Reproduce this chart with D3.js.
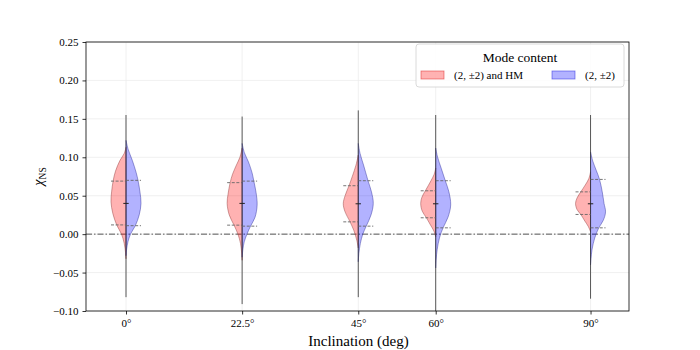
<!DOCTYPE html>
<html>
<head>
<meta charset="utf-8">
<script src="https://cdn.jsdelivr.net/npm/d3@7"></script>
<style>
  body { margin: 0; background: #fff; }
  svg text { font-family: "Liberation Serif", "DejaVu Serif", serif; fill: #000; }
</style>
</head>
<body>
<div id="chart"></div>
<script>
"use strict";

// === DATA ===
const angles = [0, 22.5, 45, 60, 90];
const tickLabels = ["0°", "22.5°", "45°", "60°", "90°"];
const yTicks = [-0.10, -0.05, 0.00, 0.05, 0.10, 0.15, 0.20, 0.25];

// full range of each sample (center stick)
const mins = [-0.082, -0.091, -0.082, -0.105, -0.084];
const maxs = [0.155, 0.153, 0.161, 0.155, 0.155];

// medians (both halves)
const medians = [0.040, 0.040, 0.0395, 0.0395, 0.0395];

// quartiles [q1, q3]
const hmQuart = [[0.012, 0.069], [0.0117, 0.067], [0.016, 0.063], [0.0213, 0.0564], [0.0256, 0.055]];
const quadQuart = [[0.011, 0.070], [0.0104, 0.069], [0.0104, 0.0695], [0.0082, 0.0695], [0.0082, 0.0712]];

// density profiles [chi, relative half width], top to bottom
const hmProfiles = [
  [[0.113,0],[0.105,0.12],[0.096,0.4],[0.082,0.7],[0.069,0.86],[0.055,0.96],[0.042,1.0],[0.027,0.88],[0.012,0.62],[0.0,0.3],[-0.012,0.12],[-0.024,0.03],[-0.032,0]],
  [[0.112,0],[0.1,0.15],[0.09,0.38],[0.078,0.64],[0.067,0.8],[0.052,0.94],[0.04,1.0],[0.025,0.86],[0.0117,0.54],[0.0,0.28],[-0.012,0.11],[-0.025,0.03],[-0.034,0]],
  [[0.103,0],[0.09,0.15],[0.075,0.4],[0.063,0.62],[0.05,0.88],[0.04,1.0],[0.03,0.9],[0.016,0.55],[0.005,0.3],[-0.008,0.1],[-0.018,0]],
  [[0.086,0],[0.078,0.1],[0.07,0.3],[0.0564,0.69],[0.048,0.92],[0.04,1.0],[0.03,0.9],[0.0213,0.62],[0.012,0.35],[0.004,0.12],[-0.0035,0]],
  [[0.081,0],[0.072,0.12],[0.064,0.35],[0.055,0.65],[0.047,0.9],[0.04,1.0],[0.032,0.9],[0.0256,0.65],[0.017,0.38],[0.01,0.15],[0.003,0]]
];
const quadProfiles = [
  [[0.122,0],[0.11,0.15],[0.096,0.42],[0.08,0.68],[0.07,0.8],[0.055,0.93],[0.04,1.0],[0.025,0.88],[0.011,0.62],[0.0,0.3],[-0.01,0.13],[-0.02,0.04],[-0.028,0]],
  [[0.118,0],[0.106,0.15],[0.094,0.42],[0.08,0.66],[0.069,0.78],[0.054,0.93],[0.038,1.0],[0.022,0.86],[0.0104,0.56],[0.0,0.32],[-0.01,0.14],[-0.02,0.05],[-0.03,0]],
  [[0.118,0],[0.105,0.12],[0.09,0.35],[0.0695,0.65],[0.055,0.88],[0.04,1.0],[0.025,0.85],[0.0104,0.53],[0.0,0.3],[-0.012,0.14],[-0.025,0.04],[-0.036,0]],
  [[0.112,0],[0.1,0.13],[0.085,0.38],[0.0695,0.64],[0.055,0.88],[0.038,1.0],[0.022,0.82],[0.0082,0.49],[-0.005,0.25],[-0.02,0.1],[-0.033,0.03],[-0.044,0]],
  [[0.107,0],[0.095,0.15],[0.083,0.38],[0.0712,0.6],[0.055,0.78],[0.04,0.9],[0.029,1.0],[0.018,0.85],[0.0082,0.55],[-0.005,0.28],[-0.02,0.1],[-0.032,0.03],[-0.04,0]]
];

const legendLabels = ["(2, ±2) and HM", "(2, ±2)"];

// === SVG SETUP ===
const W = 700, H = 350;
const plot = { left: 86, right: 629, top: 42, bottom: 311 };

const svg = d3.select("#chart").append("svg")
  .attr("width", W).attr("height", H);

// === SCALES ===
const x = d3.scaleLinear().domain([-7.75, 97.45]).range([plot.left, plot.right]);
const y = d3.scaleLinear().domain([-0.10, 0.25]).range([plot.bottom, plot.top]);
const w = d3.scaleLinear().domain([0, 1]).range([0, 15]);

svg.append("clipPath").attr("id", "clip")
  .append("rect")
  .attr("x", plot.left).attr("y", plot.top)
  .attr("width", plot.right - plot.left).attr("height", plot.bottom - plot.top);

// === GRID ===
const grid = svg.append("g");
grid.selectAll(".gy").data(yTicks).enter().append("line")
  .attr("x1", plot.left).attr("x2", plot.right)
  .attr("y1", d => y(d)).attr("y2", d => y(d))
  .attr("stroke", "#ececec").attr("stroke-width", 0.8);
grid.selectAll(".gx").data(angles).enter().append("line")
  .attr("x1", d => x(d)).attr("x2", d => x(d))
  .attr("y1", plot.top).attr("y2", plot.bottom)
  .attr("stroke", "#ececec").attr("stroke-width", 0.8);

// zero reference line
svg.append("line")
  .attr("x1", plot.left).attr("x2", plot.right)
  .attr("y1", y(0)).attr("y2", y(0))
  .attr("stroke", "#444").attr("stroke-width", 0.9)
  .attr("stroke-dasharray", "6,2,1.5,2");

// === VIOLINS ===
const body = svg.append("g").attr("clip-path", "url(#clip)");

angles.forEach((a, i) => {
  const cx = x(a);

  const leftArea = d3.area()
    .y(d => y(d[0]))
    .x0(cx)
    .x1(d => cx - w(d[1]))
    .curve(d3.curveCatmullRom);
  const rightArea = d3.area()
    .y(d => y(d[0]))
    .x0(cx)
    .x1(d => cx + w(d[1]))
    .curve(d3.curveCatmullRom);

  body.append("path")
    .attr("d", leftArea(hmProfiles[i]))
    .attr("fill", "rgba(255,0,0,0.3)")
    .attr("stroke", "rgba(140,50,50,0.55)")
    .attr("stroke-width", 0.8);
  body.append("path")
    .attr("d", rightArea(quadProfiles[i]))
    .attr("fill", "rgba(0,0,255,0.3)")
    .attr("stroke", "rgba(40,40,150,0.55)")
    .attr("stroke-width", 0.8);

  // center stick, min to max
  body.append("line")
    .attr("x1", cx).attr("x2", cx)
    .attr("y1", y(maxs[i])).attr("y2", y(mins[i]))
    .attr("stroke", "#333").attr("stroke-width", 1)
    .attr("opacity", 0.8);

  // quartiles
  hmQuart[i].forEach(q => {
    body.append("line")
      .attr("x1", cx - w(1)).attr("x2", cx)
      .attr("y1", y(q)).attr("y2", y(q))
      .attr("stroke", "#666").attr("stroke-width", 0.9)
      .attr("stroke-dasharray", "3,1.6");
  });
  quadQuart[i].forEach(q => {
    body.append("line")
      .attr("x1", cx).attr("x2", cx + w(1))
      .attr("y1", y(q)).attr("y2", y(q))
      .attr("stroke", "#666").attr("stroke-width", 0.9)
      .attr("stroke-dasharray", "3,1.6");
  });

  // median
  body.append("line")
    .attr("x1", cx - 2.7).attr("x2", cx + 2.7)
    .attr("y1", y(medians[i])).attr("y2", y(medians[i]))
    .attr("stroke", "#222").attr("stroke-width", 1);
});

// === AXES ===
const yAxis = d3.axisLeft(y).tickValues(yTicks)
  .tickFormat(d => d < 0 ? "\u2212" + Math.abs(d).toFixed(2) : d.toFixed(2))
  .tickSize(3.5).tickPadding(4);
const xAxis = d3.axisBottom(x).tickValues(angles)
  .tickFormat((d, i) => tickLabels[i])
  .tickSize(3.5).tickPadding(5);

const gy = svg.append("g").attr("transform", `translate(${plot.left},0)`).call(yAxis);
const gx = svg.append("g").attr("transform", `translate(0,${plot.bottom})`).call(xAxis);
[gx, gy].forEach(g => {
  g.select(".domain").remove();
  g.selectAll("line").attr("stroke", "#000").attr("stroke-width", 0.8);
  g.selectAll("text").attr("font-size", "11px")
    .style("font-family", "'Liberation Serif', serif");
});

// frame
svg.append("rect")
  .attr("x", plot.left).attr("y", plot.top)
  .attr("width", plot.right - plot.left).attr("height", plot.bottom - plot.top)
  .attr("fill", "none").attr("stroke", "#000").attr("stroke-width", 0.8);

// === LABELS ===
svg.append("text")
  .attr("x", (plot.left + plot.right) / 2 + 1)
  .attr("y", 346)
  .attr("text-anchor", "middle")
  .attr("font-size", "15px")
  .text("Inclination (deg)");

const yl = svg.append("text")
  .attr("transform", `translate(43,${(plot.top + plot.bottom) / 2}) rotate(-90)`)
  .attr("text-anchor", "middle")
  .attr("font-size", "14px");
yl.append("tspan").attr("font-style", "italic").text("χ");
yl.append("tspan").attr("font-size", "9.5px").attr("dy", 3).text("NS");

// === LEGEND ===
const lg = svg.append("g");
lg.append("rect")
  .attr("x", 416).attr("y", 44).attr("width", 208).attr("height", 43)
  .attr("rx", 3)
  .attr("fill", "rgba(255,255,255,0.85)")
  .attr("stroke", "#d0d0d0").attr("stroke-width", 0.8);
lg.append("text")
  .attr("x", 520).attr("y", 62)
  .attr("text-anchor", "middle")
  .attr("font-size", "13.5px")
  .text("Mode content");

const legendFill = ["rgba(255,0,0,0.3)", "rgba(0,0,255,0.3)"];
const legendStroke = ["rgba(220,40,40,0.6)", "rgba(40,40,220,0.6)"];
const legendX = [421, 552];
legendLabels.forEach((lab, i) => {
  lg.append("rect")
    .attr("x", legendX[i]).attr("y", 71).attr("width", 23).attr("height", 8)
    .attr("fill", legendFill[i]).attr("stroke", legendStroke[i]).attr("stroke-width", 0.8);
  lg.append("text")
    .attr("x", legendX[i] + 33).attr("y", 79)
    .attr("font-size", "11px")
    .text(lab);
});
</script>
</body>
</html>
